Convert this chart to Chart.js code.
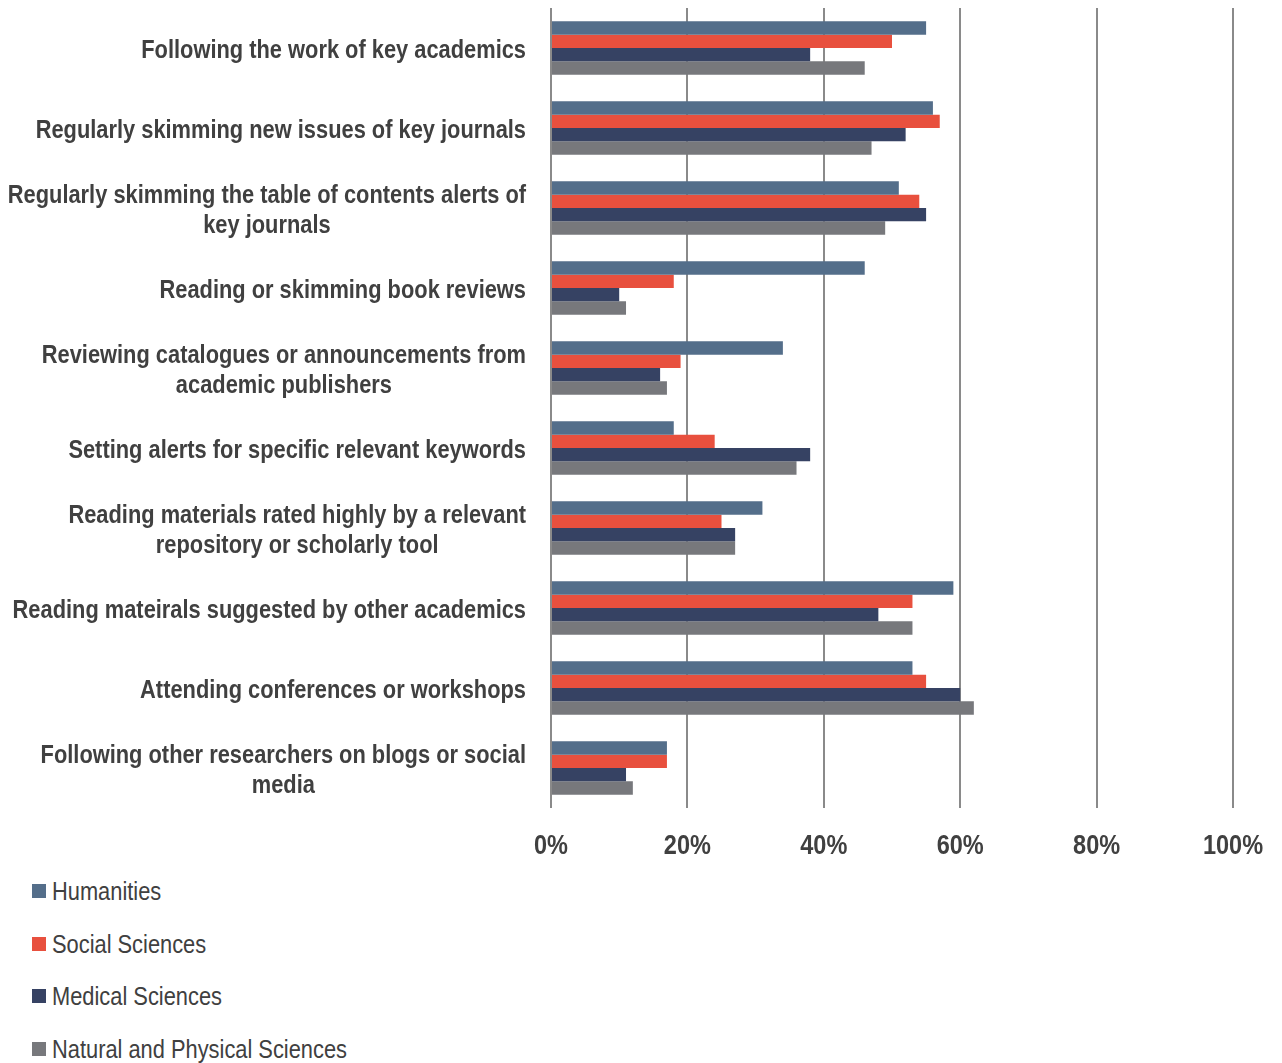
<!DOCTYPE html>
<html>
<head>
<meta charset="utf-8">
<script src="https://cdn.jsdelivr.net/npm/chart.js@4/dist/chart.umd.min.js"></script>
<style>
  html, body { margin: 0; background: #fff; overflow: hidden; }
  #wrap { position: relative; width: 1282px; height: 870px; }
  #legend { position: absolute; left: 32px; top: 878px; font-family: "Liberation Sans", Arial, sans-serif; font-size: 26px; color: #404040; }
  .item { position: relative; height: 52.5px; width: 600px; }
  .box { position: absolute; left: 0; top: 6px; width: 14px; height: 14px; }
  .txt { position: absolute; left: 20px; top: 0; line-height: 26px; white-space: nowrap; transform: scaleX(0.84); transform-origin: left top; }
</style>
</head>
<body>
<div id="wrap"><canvas id="chart"></canvas></div>
<div id="legend"></div>
<script>
"use strict";
const FONT = '"Liberation Sans", Arial, sans-serif';
const NARROW = 0.84;   // horizontal squeeze to get a narrow face

const categories = [
    "Following the work of key academics",
    "Regularly skimming new issues of key journals",
    ["Regularly skimming the table of contents alerts of", "key journals"],
    "Reading or skimming book reviews",
    ["Reviewing catalogues or announcements from", "academic publishers"],
    "Setting alerts for specific relevant keywords",
    ["Reading materials rated highly by a relevant", "repository or scholarly tool"],
    "Reading mateirals suggested by other academics",
    "Attending conferences or workshops",
    ["Following other researchers on blogs or social", "media"]
];
const humanities = [55, 56, 51, 46, 34, 18, 31, 59, 53, 17];
const socialSciences = [50, 57, 54, 18, 19, 24, 25, 53, 55, 17];
const medicalSciences = [38, 52, 55, 10, 16, 38, 27, 48, 60, 11];
const naturalSciences = [46, 47, 49, 11, 17, 36, 27, 53, 62, 12];
const xTicks = [0, 20, 40, 60, 80, 100];

function narrowText(ctx, text, x, y){
    ctx.save();
    ctx.translate(x, y);
    ctx.scale(NARROW, 1);
    ctx.fillText(text, 0, 0);
    ctx.restore();
}

// category labels (lines centred on each other, block right-aligned) and % ticks
const axisLabels = {
    id: "axisLabels",
    afterDraw(chart){
        const ctx = chart.ctx, y = chart.scales.y, x = chart.scales.x;
        const area = chart.chartArea;
        const right = area.left - 25;
        ctx.save();
        ctx.fillStyle = "#404040";
        ctx.textBaseline = "alphabetic";
        ctx.textAlign = "center";
        ctx.font = "bold 26px " + FONT;
        categories.forEach((lab, i) => {
            const lines = Array.isArray(lab) ? lab : [lab];
            const w = Math.max(...lines.map(l => ctx.measureText(l).width)) * NARROW;
            const cy = y.getPixelForTick(i) + 9.5;
            lines.forEach((l, j) => {
                narrowText(ctx, l, right - w/2, cy + (j - (lines.length-1)/2)*30);
            });
        });
        ctx.font = "bold 28px " + FONT;
        for(const v of xTicks){
            narrowText(ctx, v + "%", x.getPixelForValue(v), area.bottom + 46);
        }
        ctx.restore();
    }
};

const series = [
    {label: "Humanities", data: humanities, color: "#546e8a"},
    {label: "Social Sciences", data: socialSciences, color: "#e8503e"},
    {label: "Medical Sciences", data: medicalSciences, color: "#364263"},
    {label: "Natural and Physical Sciences", data: naturalSciences, color: "#77787c"}
];

const chart = new Chart("chart", {
    type: "bar",
    data: {
        labels: categories,
        datasets: series.map(s => ({
            label: s.label,
            data: s.data,
            backgroundColor: s.color,
            borderWidth: 0,
            categoryPercentage: 0.667,
            barPercentage: 1
        }))
    },
    options: {
        indexAxis: "y",
        responsive: true,
        maintainAspectRatio: false,
        animation: false,
        layout: {padding: {top: 8, right: 49, bottom: 0, left: 0}},
        scales: {
            x: {
                min: 0, max: 100,
                afterBuildTicks: scale => { scale.ticks = xTicks.map(v => ({value: v})); },
                grid: {color: "#8a8a8a", lineWidth: 2, drawTicks: false},
                border: {display: false},
                ticks: {display: false},
                afterFit: scale => { scale.height = 62; }
            },
            y: {
                grid: {display: false},
                border: {display: false},
                ticks: {display: false},
                afterFit: scale => { scale.width = 551; }
            }
        },
        plugins: {
            legend: {display: false},
            tooltip: {enabled: false}
        }
    },
    plugins: [axisLabels]
});

// legend below the chart, one entry per row
const legend = document.getElementById("legend");
for(const ds of chart.data.datasets){
    const item = document.createElement("div");
    item.className = "item";
    const box = document.createElement("span");
    box.className = "box";
    box.style.background = ds.backgroundColor;
    const txt = document.createElement("span");
    txt.className = "txt";
    txt.textContent = ds.label;
    item.appendChild(box); item.appendChild(txt);
    legend.appendChild(item);
}
</script>
</body>
</html>
